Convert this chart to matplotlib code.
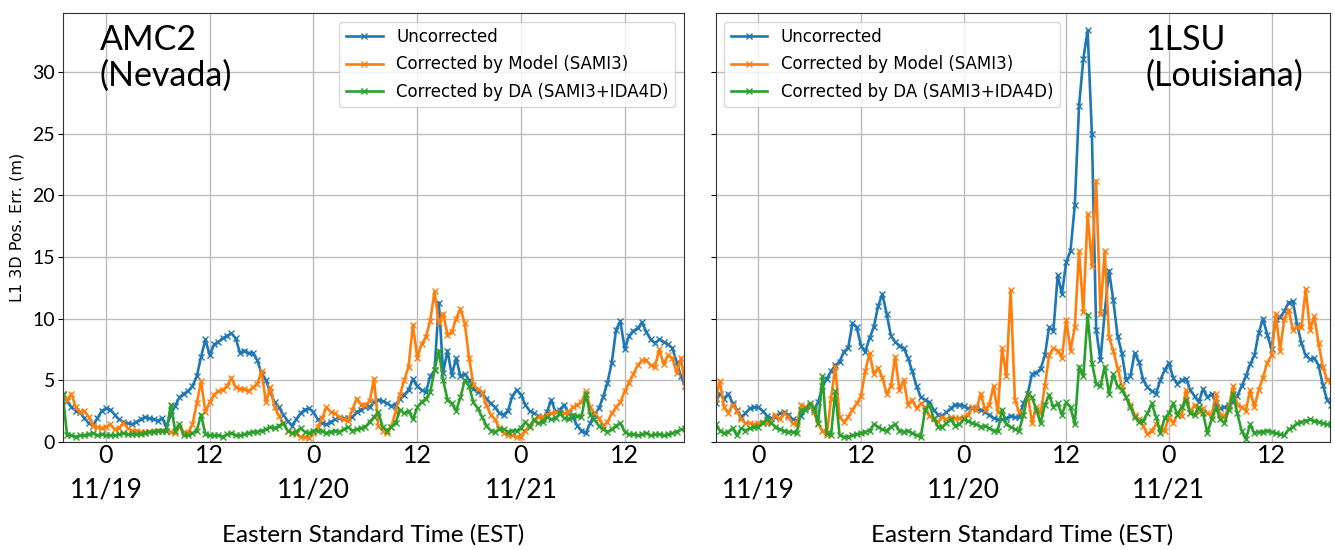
import numpy as np
import matplotlib
matplotlib.use("Agg")
import matplotlib.pyplot as plt
import matplotlib.transforms as mtransforms

# hours relative to 11/19 00:00 EST, one sample every 30 min
hours = np.arange(-5.0, 67.01, 0.5)

# AMC2 (Nevada)
amc2_unc = [
    3.8, 3.3, 2.8, 2.5, 2.4, 1.9, 1.5, 1.3, 1.9, 2.5, 2.7, 2.6,
    2.2, 1.8, 1.6, 1.5, 1.4, 1.6, 1.8, 2.0, 1.9, 1.8, 1.7, 1.9,
    1.2, 2.2, 2.9, 3.6, 3.9, 4.1, 4.5, 5.3, 6.9, 8.3, 7.0, 7.9,
    8.1, 8.4, 8.6, 8.8, 8.4, 7.2, 7.4, 7.2, 7.2, 6.6, 5.5, 5.0,
    4.0, 3.2, 2.8, 2.2, 1.7, 1.3, 1.8, 2.3, 2.6, 2.7, 2.4, 1.8,
    1.5, 1.4, 1.6, 1.8, 1.9, 1.9, 1.9, 2.0, 2.4, 2.6, 2.8, 2.8,
    3.2, 3.4, 3.3, 3.1, 2.9, 3.0, 3.5, 3.8, 4.2, 5.1, 4.5, 4.2,
    4.0, 5.3, 5.8, 11.3, 5.6, 7.4, 5.4, 6.8, 5.3, 5.5, 5.0, 4.3,
    4.0, 3.9, 3.5, 3.1, 2.8, 2.3, 2.2, 2.5, 3.7, 4.2, 3.8, 3.0,
    2.5, 2.3, 2.1, 1.8, 2.4, 3.4, 2.4, 2.6, 3.0, 2.3, 2.0, 1.3,
    0.9, 0.7, 1.5, 2.2, 2.7, 3.6, 4.8, 6.4, 9.1, 9.8, 7.5, 8.6,
    9.0, 9.2, 9.7, 8.9, 8.3, 8.0, 8.3, 8.1, 7.9, 7.6, 6.5, 5.3,
    4.5,
]
amc2_model = [
    3.9, 3.4, 3.9, 2.8, 2.4, 2.5, 2.0, 1.3, 1.2, 1.1, 1.2, 1.4,
    1.0, 1.1, 1.5, 1.1, 0.9, 0.9, 0.8, 0.8, 0.8, 0.9, 0.9, 0.9,
    0.9, 0.8, 0.7, 1.2, 0.8, 0.7, 1.4, 3.1, 4.9, 2.4, 3.2, 3.8,
    4.1, 4.2, 4.5, 5.2, 4.4, 4.3, 4.3, 4.1, 4.4, 4.7, 5.7, 3.2,
    4.4, 2.8, 2.1, 1.5, 0.9, 0.7, 0.6, 0.4, 0.4, 0.3, 0.7, 1.2,
    1.9, 2.8, 2.4, 2.3, 2.0, 1.8, 1.7, 2.6, 3.5, 3.0, 3.0, 3.3,
    5.1, 1.3, 0.9, 0.7, 1.2, 2.4, 3.8, 5.0, 6.1, 9.5, 6.8, 7.9,
    8.5, 9.8, 12.2, 9.6, 10.4, 8.7, 8.9, 10.0, 10.8, 9.6, 6.8, 4.6,
    4.3, 4.0, 3.0, 2.2, 1.8, 1.1, 0.7, 0.5, 0.5, 0.4, 0.4, 0.9,
    1.3, 1.7, 2.0, 2.0, 2.2, 2.3, 2.4, 2.3, 2.3, 2.4, 2.8, 3.0,
    3.2, 4.1, 2.8, 2.3, 1.9, 1.3, 1.6, 2.3, 2.8, 3.2, 4.1, 4.8,
    5.5, 6.2, 6.6, 6.6, 6.2, 6.1, 7.5, 6.3, 7.0, 6.8, 5.6, 6.8,
    4.5,
]
amc2_da = [
    3.9, 0.5, 0.5, 0.4, 0.5, 0.5, 0.6, 0.7, 0.5, 0.6, 0.5, 0.5,
    0.5, 0.6, 0.7, 0.6, 0.6, 0.6, 0.6, 0.7, 0.8, 0.8, 0.9, 0.9,
    0.9, 3.0, 0.9, 1.4, 0.5, 0.5, 0.7, 0.9, 2.2, 0.6, 0.5, 0.5,
    0.5, 0.4, 0.6, 0.7, 0.5, 0.5, 0.6, 0.7, 0.8, 0.8, 0.9, 1.0,
    1.2, 1.1, 1.3, 1.5, 0.9, 0.7, 0.8, 1.1, 0.8, 0.7, 0.9, 0.9,
    0.9, 0.7, 0.8, 0.9, 0.8, 1.0, 1.2, 0.9, 1.0, 1.1, 1.2, 1.6,
    2.0, 2.4, 1.2, 0.9, 1.2, 1.5, 2.6, 2.3, 2.5, 1.8, 2.8, 3.2,
    3.5, 4.0, 5.8, 7.4, 5.0, 3.4, 3.1, 2.5, 3.6, 5.0, 4.5, 3.2,
    2.7, 2.0, 1.3, 0.9, 0.8, 1.0, 1.0, 0.8, 0.9, 0.9, 1.1, 1.6,
    1.2, 1.8, 1.5, 1.6, 2.0, 1.8, 1.9, 2.3, 1.9, 1.8, 2.2, 2.1,
    2.0, 3.9, 2.2, 1.8, 1.3, 1.0, 0.8, 1.0, 1.3, 1.5, 0.8, 0.6,
    0.6, 0.5, 0.6, 0.7, 0.5, 0.6, 0.6, 0.5, 0.6, 0.7, 0.8, 1.0,
    1.1,
]

# 1LSU (Louisiana)
lsu_unc = [
    3.1, 3.9, 3.5, 3.9, 3.1, 2.6, 2.0, 2.3, 2.7, 2.8, 2.8, 2.5,
    2.1, 1.9, 2.0, 2.3, 2.4, 2.2, 1.8, 1.7, 2.1, 2.7, 2.8, 2.6,
    3.2, 4.5, 5.1, 5.7, 6.2, 6.5, 7.3, 7.6, 9.6, 9.3, 7.8, 7.3,
    8.4, 9.3, 11.0, 12.0, 10.4, 8.6, 8.1, 7.8, 7.6, 6.8, 5.7, 4.5,
    3.6, 3.4, 3.2, 2.6, 2.2, 2.1, 2.4, 2.7, 3.0, 3.0, 2.9, 2.7,
    2.7, 2.7, 2.6, 2.4, 2.2, 1.9, 1.8, 1.8, 1.9, 2.1, 2.0, 2.0,
    3.1, 3.9, 5.5, 5.6, 5.9, 7.0, 9.3, 9.0, 13.5, 12.0, 14.6, 15.5,
    19.2, 27.3, 31.1, 33.4, 25.0, 9.1, 6.6, 10.5, 13.9, 11.5, 8.6, 7.2,
    5.0, 5.3, 7.2, 6.5, 5.0, 4.4, 4.1, 3.9, 5.0, 5.8, 6.4, 5.2,
    4.7, 5.0, 5.1, 4.2, 3.7, 3.2, 4.3, 3.6, 3.9, 3.1, 2.7, 2.8,
    3.0, 3.2, 3.7, 4.5, 5.3, 6.3, 7.0, 8.8, 10.0, 8.7, 7.5, 10.0,
    10.1, 10.6, 11.3, 11.4, 9.5, 8.0, 7.0, 6.7, 6.8, 6.2, 4.6, 3.4,
    3.0,
]
lsu_model = [
    3.5, 4.9, 2.8, 2.3, 3.0, 2.5, 1.8, 1.5, 1.5, 1.4, 1.5, 1.6,
    1.5, 1.6, 2.2, 1.8, 2.3, 2.0, 1.5, 1.4, 3.0, 2.8, 3.0, 2.4,
    1.4, 0.9, 0.5, 3.5, 6.1, 2.0, 1.6, 2.0, 2.6, 3.1, 3.7, 5.7,
    7.2, 5.5, 6.0, 5.2, 3.9, 4.5, 6.9, 4.2, 5.0, 3.0, 3.4, 2.7,
    3.1, 2.8, 2.1, 1.8, 1.6, 2.0, 1.8, 2.0, 1.9, 1.9, 2.0, 2.2,
    2.8, 2.6, 3.9, 2.6, 3.0, 4.5, 2.4, 7.6, 5.3, 12.3, 3.4, 2.4,
    2.2, 3.9, 1.5, 2.8, 2.3, 4.5, 7.0, 7.6, 7.4, 6.8, 9.9, 7.4,
    9.3, 15.5, 10.5, 18.5, 14.3, 21.2, 10.4, 15.5, 8.5, 7.4, 6.0, 4.5,
    3.6, 3.0, 2.2, 1.8, 1.3, 0.6, 0.9, 1.4, 1.2, 0.9, 2.0, 1.5,
    2.2, 2.1, 4.2, 2.3, 3.0, 2.4, 2.7, 2.3, 2.1, 3.9, 2.2, 2.0,
    2.8, 4.5, 3.0, 2.8, 2.5, 4.2, 2.8, 4.2, 5.2, 6.4, 7.0, 10.4,
    7.4, 10.0, 10.7, 9.1, 9.3, 9.3, 12.4, 9.1, 10.2, 8.0, 6.1, 5.0,
    4.9,
]
lsu_da = [
    1.4, 0.9, 0.7, 0.8, 1.1, 0.5, 1.1, 0.9, 1.1, 1.2, 1.2, 1.5,
    1.8, 1.5, 1.2, 1.0, 0.9, 0.8, 0.8, 0.7, 2.6, 2.6, 3.1, 2.7,
    1.5, 5.3, 0.7, 0.5, 4.1, 0.5, 0.4, 0.4, 0.5, 0.6, 0.7, 0.8,
    0.9, 1.4, 1.2, 1.0, 0.9, 1.2, 1.4, 0.9, 0.8, 0.9, 0.7, 0.5,
    0.4, 2.6, 3.0, 1.9, 1.2, 1.2, 1.5, 1.8, 1.3, 1.4, 1.8, 1.7,
    1.5, 1.4, 1.2, 1.3, 1.1, 0.9, 0.9, 2.6, 1.4, 1.2, 1.0, 0.9,
    2.2, 3.9, 3.6, 2.6, 1.5, 3.0, 3.8, 2.8, 3.1, 2.2, 3.2, 2.8,
    1.4, 6.1, 5.3, 10.3, 6.4, 4.7, 4.5, 6.1, 3.9, 5.5, 4.5, 4.2,
    3.6, 2.8, 2.0, 1.6, 1.7, 2.3, 3.1, 2.0, 0.7, 1.9, 2.3, 3.1,
    2.2, 2.8, 3.4, 2.3, 2.2, 2.8, 2.3, 0.7, 1.8, 2.8, 1.8, 1.5,
    2.6, 3.9, 2.3, 0.9, 0.2, 1.4, 0.7, 0.8, 0.8, 0.9, 0.8, 0.7,
    0.6, 0.5, 1.0, 1.2, 1.5, 1.6, 1.7, 1.8, 1.7, 1.6, 1.5, 1.4,
    1.4,
]

labels = ["Uncorrected", "Corrected by Model (SAMI3)", "Corrected by DA (SAMI3+IDA4D)"]
colors = ["#1f77b4", "#ff7f0e", "#2ca02c"]
tick_pos = [0, 12, 24, 36, 48, 60]
tick_lab = ["0", "12", "0", "12", "0", "12"]
dates = [(0, "11/19"), (24, "11/20"), (48, "11/21")]

ppt_font = "Lato"

fig = plt.figure(figsize=(13.35, 5.5), dpi=100)
ax1 = fig.add_axes([0.047, 0.197, 0.465, 0.779])
ax2 = fig.add_axes([0.536, 0.197, 0.46, 0.779], sharey=ax1)

panels = [
    (ax1, [amc2_unc, amc2_model, amc2_da], "AMC2\n(Nevada)", 0.06, "upper right"),
    (ax2, [lsu_unc, lsu_model, lsu_da], "1LSU\n(Louisiana)", 0.70, "upper left"),
]

for ax, series, name, tx, loc in panels:
    for vals, lab, col in zip(series, labels, colors):
        ax.plot(hours, vals, color=col, lw=1.9, marker="x", ms=4, mew=1.0, label=lab)
    ax.set_xlim(-5, 66.8)
    ax.set_ylim(0, 34.8)
    ax.grid(True, color="#bdbdbd", lw=1.0)
    ax.set_axisbelow(True)
    ax.set_xticks(tick_pos)
    ax.set_xticklabels(tick_lab, fontsize=18, family=ppt_font)
    ax.tick_params(axis="x", length=0, pad=2)
    ax.set_yticks([0, 5, 10, 15, 20, 25, 30])
    for sp in ax.spines.values():
        sp.set_color("#333333")
    trans = mtransforms.blended_transform_factory(ax.transData, ax.transAxes)
    for x, d in dates:
        ax.text(x, -0.112, d, transform=trans, ha="center", va="center",
                fontsize=19, family=ppt_font)
    ax.text(0.5, -0.218, "Eastern Standard Time (EST)", transform=ax.transAxes,
            ha="center", va="center", fontsize=17.5, family=ppt_font)
    ax.text(tx, 0.975, name, transform=ax.transAxes, ha="left", va="top",
            fontsize=24.5, family=ppt_font, linespacing=1.15)
    ax.legend(loc=loc, fontsize=12, handlelength=2.2, framealpha=0.8,
              borderaxespad=0.5, labelspacing=0.55)

ax1.set_yticklabels(["0", "5", "10", "15", "20", "25", "30"], fontsize=14, family=ppt_font)
ax1.tick_params(axis="y", pad=2)
ax1.set_ylabel("L1 3D Pos. Err. (m)", fontsize=11.5, labelpad=6)
plt.setp(ax2.get_yticklabels(), visible=False)

fig.savefig("out.png", dpi=100)
